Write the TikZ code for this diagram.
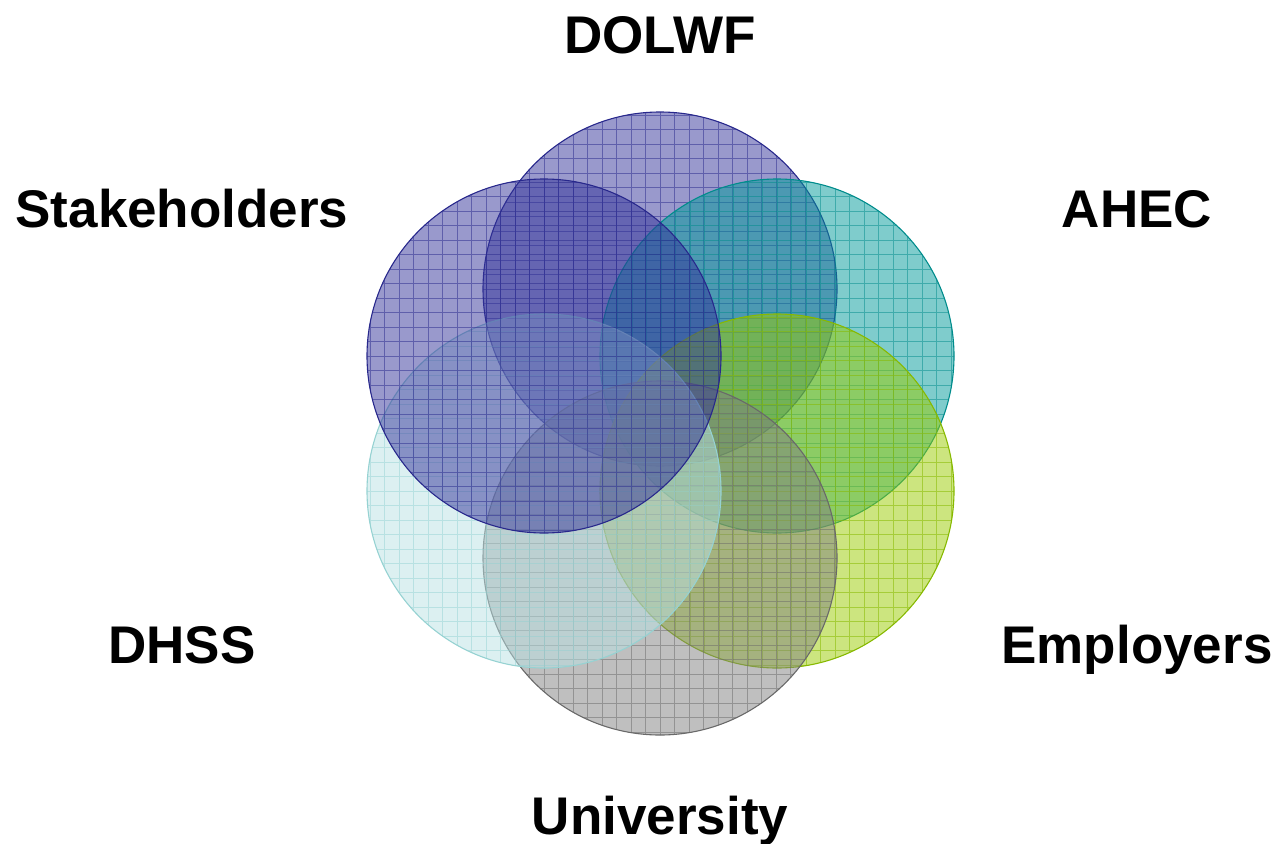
\documentclass[tikz,border=0pt]{standalone}
\usepackage{fontspec}
\setmainfont{Liberation Sans}
\definecolor{cDolwf}{RGB}{51,51,153}
\definecolor{lDolwf}{RGB}{40,40,140}
\definecolor{cAhec}{RGB}{0,153,153}
\definecolor{lAhec}{RGB}{0,140,140}
\definecolor{cEmp}{RGB}{153,204,0}
\definecolor{lEmp}{RGB}{135,185,0}
\definecolor{cUni}{RGB}{128,128,128}
\definecolor{lUni}{RGB}{105,105,105}
\definecolor{cDhss}{RGB}{185,225,228}
\definecolor{lDhss}{RGB}{150,210,210}
\newcommand\drawcirc[5]{%
  \fill[#2, fill opacity=#4] (#1) circle (177pt);
  \begin{scope}
    \clip (#1) circle (177pt);
    \draw[#3, draw opacity=#5, line width=0.7pt, shift={(#1)}] (-188.5pt,-188.5pt) grid[step=14.5pt] (188.5pt,188.5pt);
  \end{scope}
  \draw[#3, line width=1.1pt] (#1) circle (177pt);
}
\tikzset{lbl/.style={font=\bfseries\fontsize{53}{60}\selectfont, anchor=base, inner sep=0pt, text=black}}
\begin{document}
\begin{tikzpicture}[x=1pt,y=-1pt]
\useasboundingbox (0,0) rectangle (1279,843);
\coordinate (pDolwf) at (660,289);
\coordinate (pStake) at (544,356);
\coordinate (pAhec) at (777,356);
\coordinate (pDhss) at (544,491);
\coordinate (pEmp) at (777,491);
\coordinate (pUni) at (660,558);
\drawcirc{pDolwf}{cDolwf}{lDolwf}{0.5}{0.5}
\drawcirc{pAhec}{cAhec}{lAhec}{0.5}{0.5}
\drawcirc{pEmp}{cEmp}{lEmp}{0.5}{0.55}
\drawcirc{pUni}{cUni}{lUni}{0.5}{0.5}
\drawcirc{pDhss}{cDhss}{lDhss}{0.5}{0.5}
\drawcirc{pStake}{cDolwf}{lDolwf}{0.5}{0.5}
\node[lbl] (tDolwf) at (660,53) {DOLWF};
\node[lbl] (tStake) at (182,227) {Stakeholders};
\node[lbl] (tAhec) at (1137,227) {AHEC};
\node[lbl] (tDhss) at (182,663) {DHSS};
\node[lbl] (tEmp) at (1137,663) {Employers};
\node[lbl] (tUni) at (660,834) {University};
\end{tikzpicture}
\end{document}
